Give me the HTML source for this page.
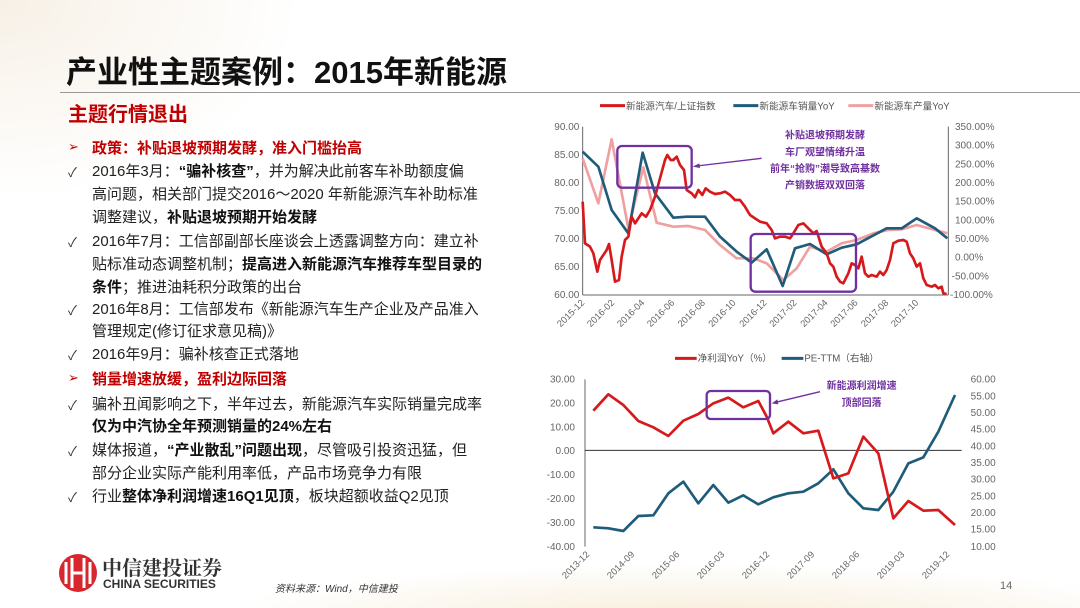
<!DOCTYPE html><html><head><meta charset="utf-8"><style>
body{margin:0;width:1080px;height:608px;overflow:hidden;background:#fff;font-family:"Liberation Sans","Noto Sans CJK SC",sans-serif;position:relative}
.a{position:absolute;white-space:nowrap}
.t{font-size:15px;color:#222;left:92px}
.c{left:68px;font-size:13px;color:#333}
b{font-weight:bold;color:#111}
</style></head><body>
<div class="a" style="left:0;top:0;width:1080px;height:608px;background:radial-gradient(ellipse 700px 80px at 700px 620px,#f7ecd8,rgba(255,255,255,0) 70%),radial-gradient(ellipse 300px 200px at 0 0,#f7f0e6,rgba(255,255,255,0))"></div>
<div class="a" style="left:66px;top:47px;font-size:31px;font-weight:bold;color:#111">产业性主题案例：2015年新能源</div>
<div class="a" style="left:60px;top:92px;width:1020px;height:1px;background:#999"></div>
<div class="a" style="left:68px;top:98px;font-size:20px;font-weight:bold;color:#c00000">主题行情退出</div>
<div class="a c" style="top:139px;color:#c00000">➢</div><div class="a t" style="top:137px;color:#c00000;font-weight:bold">政策：补贴退坡预期发酵，准入门槛抬高</div>
<div class="a c" style="top:162px">✓</div><div class="a t" style="top:160px">2016年3月：<b>“骗补核查”</b>，并为解决此前客车补助额度偏</div>
<div class="a t" style="top:183px">高问题，相关部门提交2016～2020 年新能源汽车补助标准</div>
<div class="a t" style="top:206px">调整建议，<b>补贴退坡预期开始发酵</b></div>
<div class="a c" style="top:232px">✓</div><div class="a t" style="top:230px">2016年7月：工信部副部长座谈会上透露调整方向：建立补</div>
<div class="a t" style="top:253px">贴标准动态调整机制；<b>提高进入新能源汽车推荐车型目录的</b></div>
<div class="a t" style="top:276px"><b>条件</b>；推进油耗积分政策的出台</div>
<div class="a c" style="top:300px">✓</div><div class="a t" style="top:298px">2016年8月：工信部发布《新能源汽车生产企业及产品准入</div>
<div class="a t" style="top:320px">管理规定(修订征求意见稿)》</div>
<div class="a c" style="top:345px">✓</div><div class="a t" style="top:343px">2016年9月：骗补核查正式落地</div>
<div class="a c" style="top:370px;color:#c00000">➢</div><div class="a t" style="top:368px;color:#c00000;font-weight:bold">销量增速放缓，盈利边际回落</div>
<div class="a c" style="top:395px">✓</div><div class="a t" style="top:393px">骗补丑闻影响之下，半年过去，新能源汽车实际销量完成率</div>
<div class="a t" style="top:415px"><b>仅为中汽协全年预测销量的24%左右</b></div>
<div class="a c" style="top:441px">✓</div><div class="a t" style="top:439px">媒体报道，<b>“产业散乱”问题出现</b>，尽管吸引投资迅猛，但</div>
<div class="a t" style="top:462px">部分企业实际产能利用率低，产品市场竞争力有限</div>
<div class="a c" style="top:487px">✓</div><div class="a t" style="top:485px">行业<b>整体净利润增速16Q1见顶</b>，板块超额收益Q2见顶</div>
<svg class="a" style="left:57px;top:552px" width="42" height="42" viewBox="0 0 42 42"><circle cx="21" cy="21" r="19" fill="#d7262e"/><g stroke="#fff" stroke-width="3" fill="none"><path d="M9 10v22M15 6v30M27 6v30M33 10v22M15 21h12"/></g></svg>
<div class="a" style="left:102px;top:552px;font-size:20px;font-weight:bold;color:#333;font-family:'Noto Serif CJK SC',serif">中信建投证券</div>
<div class="a" style="left:103px;top:577px;font-size:12px;font-weight:bold;color:#333">CHINA SECURITIES</div>
<div class="a" style="left:275px;top:580px;font-size:10px;font-style:italic;color:#333">资料来源：Wind，中信建投</div>
<div class="a" style="left:1000px;top:580px;font-size:11px;color:#666">14</div>

<svg class="a" style="left:540px;top:90px" width="540" height="260" viewBox="0 0 1620 780" font-family="Liberation Sans,Noto Sans CJK SC,sans-serif">
<g font-size="29" fill="#555">
<line x1="180" y1="47" x2="255" y2="47" stroke="#d7191c" stroke-width="9"/><text x="258" y="58">新能源汽车/上证指数</text>
<line x1="580" y1="47" x2="655" y2="47" stroke="#1f5c7a" stroke-width="9"/><text x="658" y="58">新能源车销量YoY</text>
<line x1="925" y1="47" x2="1000" y2="47" stroke="#f0a0a0" stroke-width="9"/><text x="1003" y="58">新能源车产量YoY</text>
</g>
<g stroke="#666" stroke-width="3"><line x1="128" y1="110" x2="128" y2="615"/><line x1="128" y1="615" x2="1225" y2="615"/><line x1="1225" y1="110" x2="1225" y2="615"/></g>
<g font-size="30" fill="#666" text-anchor="end"><text x="118" y="120">90.00</text><text x="118" y="204">85.00</text><text x="118" y="288">80.00</text><text x="118" y="372">75.00</text><text x="118" y="456">70.00</text><text x="118" y="540">65.00</text><text x="118" y="624">60.00</text></g>
<g font-size="30" fill="#666"><text x="1245" y="120">350.00%</text><text x="1245" y="176">300.00%</text><text x="1245" y="232">250.00%</text><text x="1245" y="288">200.00%</text><text x="1245" y="344">150.00%</text><text x="1245" y="400">100.00%</text><text x="1245" y="456">50.00%</text><text x="1245" y="512">0.00%</text><text x="1235" y="568">-50.00%</text><text x="1230" y="624">-100.00%</text></g>
<g font-size="28" fill="#666" text-anchor="end">
<text transform="translate(135,640) rotate(-45)">2015-12</text><text transform="translate(225,640) rotate(-45)">2016-02</text><text transform="translate(315,640) rotate(-45)">2016-04</text><text transform="translate(405,640) rotate(-45)">2016-06</text><text transform="translate(497,640) rotate(-45)">2016-08</text><text transform="translate(589,640) rotate(-45)">2016-10</text><text transform="translate(682,640) rotate(-45)">2016-12</text><text transform="translate(772,640) rotate(-45)">2017-02</text><text transform="translate(865,640) rotate(-45)">2017-04</text><text transform="translate(955,640) rotate(-45)">2017-06</text><text transform="translate(1047,640) rotate(-45)">2017-08</text><text transform="translate(1137,640) rotate(-45)">2017-10</text></g>
<g fill="none" stroke-width="8" stroke-linejoin="round">
<polyline stroke="#f0a0a0" points="128,205 175,340 215,148 265,415 310,232 350,398 400,410 445,408 495,420 540,465 590,505 640,505 680,520 730,570 770,535 810,470 860,485 905,460 950,450 1000,430 1045,420 1085,418 1130,405 1185,420 1222,430"/>
<polyline stroke="#1f5c7a" points="128,185 175,230 215,360 265,430 308,188 345,310 400,383 440,380 495,380 540,440 590,485 635,518 680,478 728,588 765,475 810,462 860,493 905,473 950,463 1040,415 1085,415 1130,385 1185,415 1222,445"/>
<polyline stroke="#d7191c" points="128,335 135,460 150,470 160,490 172,545 180,510 200,480 207,462 215,510 225,575 237,570 245,500 255,450 265,440 275,380 285,400 295,385 305,370 318,380 330,360 345,320 360,265 375,210 382,195 392,210 400,210 410,200 420,225 432,240 440,300 455,310 465,322 475,300 487,315 497,295 510,305 525,312 540,310 555,305 570,315 585,330 600,330 615,350 630,375 645,385 660,395 680,400 695,420 705,445 720,440 735,440 750,445 760,430 775,405 790,400 800,410 810,420 820,430 830,423 845,470 860,490 870,520 880,530 890,560 900,575 910,580 925,550 935,520 945,525 955,535 965,500 975,550 985,560 995,555 1010,560 1020,545 1030,555 1040,540 1050,510 1060,460 1075,452 1090,450 1100,455 1110,490 1120,505 1130,530 1140,520 1150,565 1160,585 1175,590 1185,585 1195,595 1205,590 1210,610 1220,612"/>
</g>
<g fill="none" stroke="#7030a0" stroke-width="7"><rect x="232" y="168" width="223" height="125" rx="14"/><rect x="632" y="432" width="316" height="173" rx="14"/><line x1="665" y1="205" x2="470" y2="228" stroke-width="4"/></g>
<polygon points="458,230 478,220 480,234" fill="#7030a0"/>
<g font-size="30" font-weight="bold" fill="#7030a0" text-anchor="middle"><text x="855" y="145">补贴退坡预期发酵</text><text x="855" y="196">车厂观望情绪升温</text><text x="855" y="246">前年“抢购”潮导致高基数</text><text x="855" y="295">产销数据双双回落</text></g>
</svg>

<svg class="a" style="left:540px;top:340px" width="540" height="268" viewBox="0 0 1620 804" font-family="Liberation Sans,Noto Sans CJK SC,sans-serif">
<g font-size="29" fill="#555">
<line x1="405" y1="55" x2="470" y2="55" stroke="#d7191c" stroke-width="9"/><text x="473" y="65">净利润YoY（%）</text>
<line x1="725" y1="55" x2="790" y2="55" stroke="#1f5c7a" stroke-width="9"/><text x="793" y="65">PE-TTM（右轴）</text></g>
<g stroke="#666" stroke-width="3"><line x1="135" y1="118" x2="135" y2="620"/><line x1="135" y1="331" x2="1265" y2="331" stroke="#333"/></g>
<g font-size="30" fill="#666" text-anchor="end"><text x="105" y="128">30.00</text><text x="105" y="199">20.00</text><text x="105" y="271">10.00</text><text x="105" y="342">0.00</text><text x="105" y="414">-10.00</text><text x="105" y="486">-20.00</text><text x="105" y="558">-30.00</text><text x="105" y="630">-40.00</text></g>
<g font-size="30" fill="#666"><text x="1292" y="128">60.00</text><text x="1292" y="178">55.00</text><text x="1292" y="228">50.00</text><text x="1292" y="278">45.00</text><text x="1292" y="328">40.00</text><text x="1292" y="378">35.00</text><text x="1292" y="428">30.00</text><text x="1292" y="478">25.00</text><text x="1292" y="528">20.00</text><text x="1292" y="578">15.00</text><text x="1292" y="630">10.00</text></g>
<g font-size="28" fill="#666" text-anchor="end"><text transform="translate(150,645) rotate(-45)">2013-12</text><text transform="translate(285,645) rotate(-45)">2014-09</text><text transform="translate(420,645) rotate(-45)">2015-06</text><text transform="translate(555,645) rotate(-45)">2016-03</text><text transform="translate(690,645) rotate(-45)">2016-12</text><text transform="translate(825,645) rotate(-45)">2017-09</text><text transform="translate(960,645) rotate(-45)">2018-06</text><text transform="translate(1095,645) rotate(-45)">2019-03</text><text transform="translate(1230,645) rotate(-45)">2019-12</text></g>
<g fill="none" stroke-width="8" stroke-linejoin="round">
<polyline stroke="#1f5c7a" points="160,562 205,565 250,573 295,528 340,526 385,460 430,425 475,490 520,435 565,488 610,466 655,493 700,472 745,460 790,455 835,430 880,388 925,460 970,505 1015,510 1060,455 1105,370 1150,352 1195,275 1245,165"/>
<polyline stroke="#d7191c" points="160,212 205,163 250,195 295,243 340,262 385,288 430,242 475,222 520,190 565,173 610,202 655,183 680,230 700,280 745,245 790,280 835,272 880,415 925,400 970,290 1015,340 1060,535 1105,483 1150,512 1195,510 1245,555"/>
</g>
<g fill="none" stroke="#7030a0" stroke-width="7"><rect x="500" y="153" width="190" height="84" rx="12"/><line x1="840" y1="155" x2="707" y2="187" stroke-width="4"/></g>
<polygon points="695,190 712,178 715,193" fill="#7030a0"/>
<g font-size="30" font-weight="bold" fill="#7030a0" text-anchor="middle"><text x="965" y="147">新能源利润增速</text><text x="965" y="198">顶部回落</text></g>
</svg>
</body></html>
